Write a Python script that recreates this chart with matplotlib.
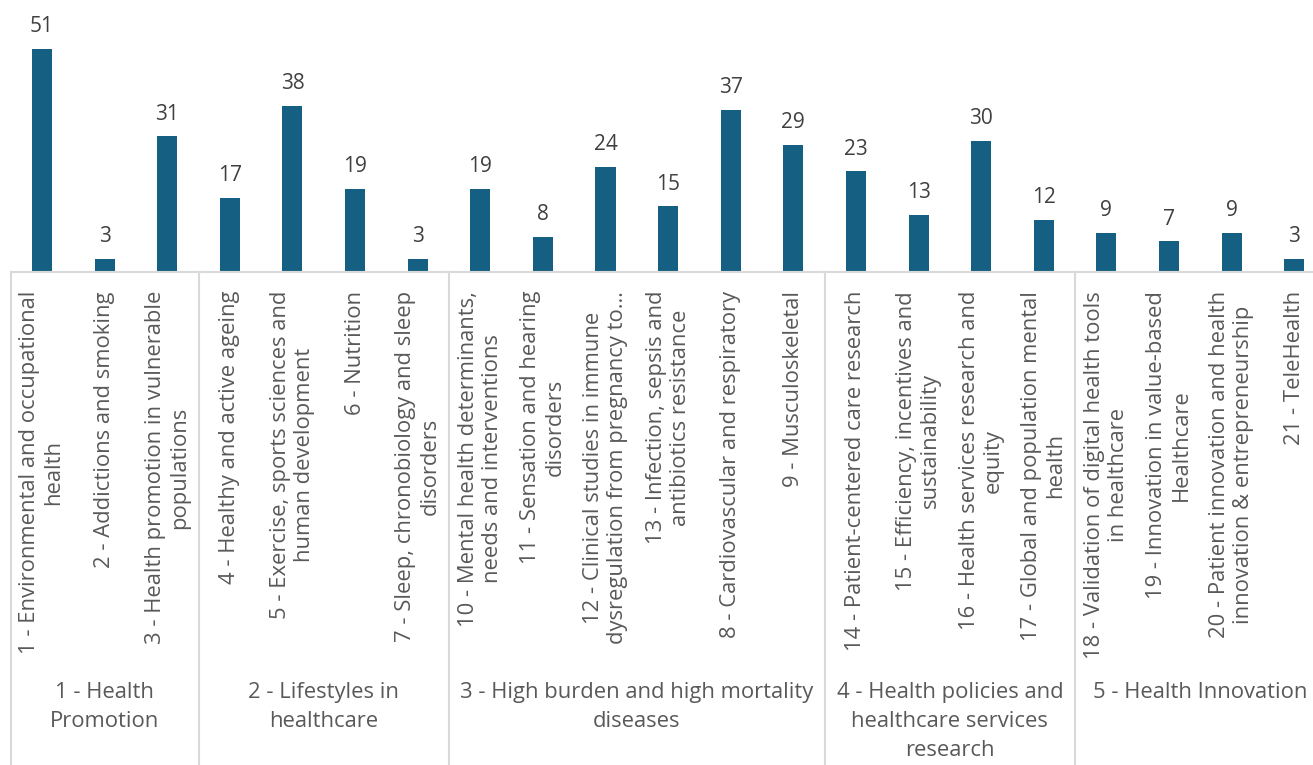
"""
Bar chart of topics per research line, grouped by area (Excel-style two-level axis).
"""

import matplotlib.pyplot as plt
from matplotlib.transforms import blended_transform_factory

topics = [
    "1 - Environmental and occupational\nhealth",
    "2 - Addictions and smoking",
    "3 - Health promotion in vulnerable\npopulations",
    "4 - Healthy and active ageing",
    "5 - Exercise, sports sciences and\nhuman development",
    "6 - Nutrition",
    "7 - Sleep, chronobiology and sleep\ndisorders",
    "10 - Mental health determinants,\nneeds and interventions",
    "11 - Sensation and hearing\ndisorders",
    "12 - Clinical studies in immune\ndysregulation from pregnancy to\u2026",
    "13 - Infection, sepsis and\nantibiotics resistance",
    "8 - Cardiovascular and respiratory",
    "9 - Musculoskeletal",
    "14 - Patient-centered care research",
    "15 - Efficiency, incentives and\nsustainability",
    "16 - Health services research and\nequity",
    "17 - Global and population mental\nhealth",
    "18 - Validation of digital health tools\nin healthcare",
    "19 - Innovation in value-based\nHealthcare",
    "20 - Patient innovation and health\ninnovation & entrepreneurship",
    "21 - TeleHealth",
]
counts = [51, 3, 31, 17, 38, 19, 3, 19, 8, 24, 15, 37, 29, 23, 13, 30, 12, 9, 7, 9, 3]

areas = [
    "1 - Health\nPromotion",
    "2 - Lifestyles in\nhealthcare",
    "3 - High burden and high mortality\ndiseases",
    "4 - Health policies and\nhealthcare services\nresearch",
    "5 - Health Innovation",
]
area_sizes = [3, 4, 6, 4, 4]

BAR_COLOR = "#156082"
TEXT_COLOR = "#595959"
VALUE_COLOR = "#404040"
LINE_COLOR = "#D9D9D9"
FONT = ["Open Sans", "DejaVu Sans"]

plt.rcParams["font.family"] = FONT

W, H = 1313, 765
fig = plt.figure(figsize=(W / 100, H / 100), dpi=100)

axis_y_px = 272
ax = fig.add_axes([10.7 / W, (H - axis_y_px) / H, 1 - 10.7 / W, axis_y_px / H])
ax.set_xlim(-0.5, 20.3)
ax.set_ylim(0, 62.2)

x = list(range(len(counts)))
ax.bar(x, counts, width=0.32, color=BAR_COLOR)

for xi, v in zip(x, counts):
    ax.annotate(str(v), (xi, v), xytext=(0, 8.5), textcoords="offset points",
                ha="center", va="bottom", fontsize=15, color=VALUE_COLOR)

ax.set_xticks([])
ax.set_yticks([])
for side in ["left", "right", "top"]:
    ax.spines[side].set_visible(False)
ax.spines["bottom"].set_color(LINE_COLOR)
ax.spines["bottom"].set_linewidth(1.5)

trans = blended_transform_factory(ax.transData, fig.transFigure)
axis_frac = (H - axis_y_px) / H

# inner category labels, rotated
for xi, label in zip(x, topics):
    ax.text(xi, (H - 291) / H, label, transform=trans, rotation=90,
            ha="center", va="top", multialignment="center",
            fontsize=15.8, color=TEXT_COLOR, linespacing=1.2)

# group separators and labels
start = -0.5
ax.plot([start, start], [0, axis_frac], transform=trans, color=LINE_COLOR,
        lw=1.5, clip_on=False)
for name, size in zip(areas, area_sizes):
    end = start + size
    ax.plot([end, end], [0, axis_frac], transform=trans, color=LINE_COLOR,
            lw=1.5, clip_on=False)
    ax.text((start + end) / 2, (H - 682) / H, name, transform=trans,
            ha="center", va="top", multialignment="center",
            fontsize=15.8, color=TEXT_COLOR, linespacing=1.5)
    start = end

fig.savefig("out.png", dpi=100)
